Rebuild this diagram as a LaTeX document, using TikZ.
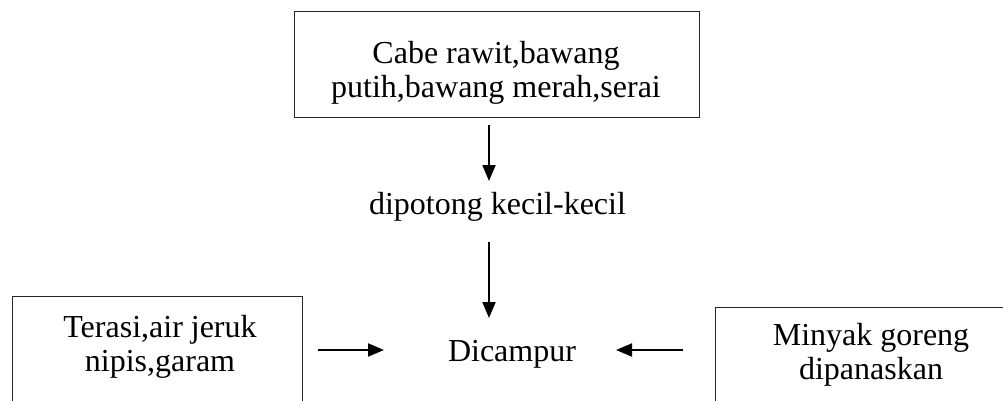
\documentclass[tikz,border=0pt]{standalone}
\usepackage{fontspec}
\setmainfont{Liberation Serif}
\usetikzlibrary{arrows.meta}
\begin{document}
\begin{tikzpicture}[x=1pt,y=-1pt,
  boxline/.style={draw=black!85, line width=1pt, inner sep=0pt},
  txt/.style={inner sep=0pt, align=center, font=\fontsize{32}{34}\selectfont},
  flow/.style={line width=2pt, -{Triangle[length=16pt,width=13pt]}}]
\useasboundingbox (0,0) rectangle (1003,401);
\clip (0,0) rectangle (1003,401);
% boxes
\node[boxline, minimum width=405pt, minimum height=106pt] (topbox) at (496.5,65) {};
\node[boxline, minimum width=290pt, minimum height=130pt] (leftbox) at (157,361) {};
\node[boxline, minimum width=305pt, minimum height=123pt] (rightbox) at (867.5,368.5) {};
% texts
\node[txt] (toptext) at (496,73) {Cabe rawit,bawang\\putih,bawang merah,serai};
\node[txt, anchor=base] (cut) at (497.5,214) {dipotong kecil-kecil};
\node[txt, anchor=base] (mix) at (512,361) {Dicampur};
\node[txt] (lefttext) at (160,347) {Terasi,air jeruk\\nipis,garam};
\node[txt] (righttext) at (871,355) {Minyak goreng\\dipanaskan};
% arrow ends
\coordinate (a1s) at (489,125);
\coordinate (a1e) at (489,181);
\coordinate (a2s) at (489,242);
\coordinate (a2e) at (489,318);
\coordinate (a3s) at (318,350);
\coordinate (a3e) at (384,350);
\coordinate (a4s) at (683,350);
\coordinate (a4e) at (616,350);
\draw[flow] (a1s) -- (a1e);
\draw[flow] (a2s) -- (a2e);
\draw[flow] (a3s) -- (a3e);
\draw[flow] (a4s) -- (a4e);
\end{tikzpicture}
\end{document}
